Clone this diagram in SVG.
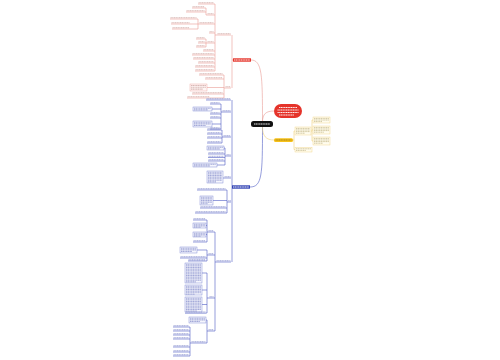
<svg xmlns="http://www.w3.org/2000/svg" width="500" height="360" viewBox="0 0 500 360">
<style>
.r{stroke:#e99c95;stroke-width:.6;fill:none}
.rt{stroke:#d9b9b6;stroke-width:1.1;stroke-dasharray:1.3 .4;fill:none}
.b{stroke:#4f5dc4;stroke-width:.6;fill:none}
.bt{stroke:#a3a9d8;stroke-width:1.1;stroke-dasharray:1.3 .4;fill:none}
.y{stroke:#eed17e;stroke-width:.6;fill:none}
.yt{stroke:#d3c9a3;stroke-width:1;stroke-dasharray:1.3 .4;fill:none}
.rbx{fill:#fff6f5;stroke:#e99c95;stroke-width:.4}
.bbx{fill:#f5f6fd;stroke:#6c78cc;stroke-width:.4}
.ybx{fill:#fffcee;stroke:#eed17e;stroke-width:.4}
.wt{stroke:#fff;stroke-width:.9;stroke-dasharray:1.3 .4;fill:none}
</style>
<rect width="500" height="360" fill="#fff"/>
<g id="connectors">
<path class="r" d="M262.5 121.5C262.5 75 262 60 251 60"/>
<path class="r" d="M232 35V88M232 60H233"/>
<path class="r" d="M217 35H215M215 4V71M214 4H215M214 15H215M214 24H215M214 33H215M214 43H215M214 51H215M214 55H215M214 59H215M214 63H215M214 67H215M214 71H215"/>
<path class="r" d="M207 15H206M206 8V15M205 8H206M205 12H206"/>
<path class="r" d="M199 24H198M198 19V29M197 19H198M190 24H198M190 29H198"/>
<path class="r" d="M207 43H206M206 39V47M205 39H206M205 43H206M205 47H206"/>
<path class="r" d="M225 88H224M224 75V98M223 75H224M223 79H224M207 87.5H224M223 94H224M210 98H224"/>
<path class="b" d="M262.5 127C262.5 175 262 187 250 187"/>
<path class="b" d="M232 100V262"/>
<path class="b" d="M222 112H221M221 104V129M220 104H221M212 109H221M220 114H221M220 118H221M212 124H221M220 129H221"/>
<path class="b" d="M223 137H222M222 130V143M221 130H222M221 134H222M221 138H222M221 143H222"/>
<path class="b" d="M226 156H225M225 148V165M224 148H225M224 154H225M224 157.5H225M224 161H225M217 165H225"/>
<path class="b" d="M224 178H223"/>
<path class="b" d="M228 202H227M227 190V213M226 190H227M213 200.5H227M226 208H227M226 213H227"/>
<path class="b" d="M216 262H215M215 232V331M214 232H215M214 255H215M214 298H215M214 331H215"/>
<path class="b" d="M208 232H207M207 220V242M206 220H207M206 225.5H207M206 234.5H207M206 242H207"/>
<path class="b" d="M208 255H207M207 250V261M197 250H207M206 258H207M206 261H207"/>
<path class="b" d="M209 298H207M207 273V313M202 273H207M202 290H207M202 304.5H207M206 313H207"/>
<path class="b" d="M208 331H207M207 320V343M206 320H207M206 343H207M191 343H190M190 327V356M189 327H190M189 331H190M189 335H190M189 339H190M189 347H190M189 352H190M189 356H190"/>
<path class="y" d="M262.5 127C262.5 136 266 140 274 140"/>
<path class="y" d="M293 140H294M294 131V149.5M294 131H295M294 149.5H295"/>
<path class="y" d="M311 131H312M312 120V141M312 120H313M312 130H313M312 141H313"/>
<path stroke="#e99c95" stroke-width=".6" fill="none" d="M262.5 122C262.5 114 266 111 274 111"/>
</g>
<g id="center"><rect x="251" y="121" width="22" height="6" rx="2.5" fill="#111"/><path class="wt" d="M254 124H270"/></g>
<g id="red-callout"><rect x="274" y="104" width="28" height="14" rx="7" fill="#e5332a"/><path class="wt" d="M279 107.5H297M277.5 110H298.5M277.5 112.5H298.5M279 115H294"/></g>
<g id="red-main"><rect x="233" y="58.3" width="18" height="3.4" fill="#e5342a"/><path class="wt" stroke-width=".7" d="M234 60H250"/></g>
<g id="blue-main"><rect x="232" y="185.3" width="18" height="3.4" fill="#3445b5"/><path class="wt" stroke-width=".7" d="M233 187H249"/></g>
<g id="yellow-main"><rect x="274" y="138.3" width="19" height="3.6" rx="1.5" fill="#f7c21b"/><path stroke="#8a6a10" stroke-width=".7" stroke-dasharray="1.3 .4" d="M275.5 140H291.5"/></g>
<g id="r-h1"><path class="rt" d="M217.5 33.7H230.5"/><path class="r" d="M217 35H231"/></g>
<g id="r-c1"><path class="rt" d="M198.5 2.7H213.5"/><path class="r" d="M198 4H214"/></g>
<g id="r-c2"><path class="rt" d="M207.5 13.7H213.5"/><path class="r" d="M207 15H214"/></g>
<g id="r-c2a"><path class="rt" d="M192.5 6.7H204.5"/><path class="r" d="M192 8H205"/></g>
<g id="r-c2b"><path class="rt" d="M186.5 10.7H204.5"/><path class="r" d="M186 12H205"/></g>
<g id="r-c3"><path class="rt" d="M199.5 22.7H213.5"/><path class="r" d="M199 24H214"/></g>
<g id="r-c3a"><path class="rt" d="M170.5 17.7H196.5"/><path class="r" d="M170 19H197"/></g>
<g id="r-c3b"><path class="rt" d="M171.5 22.7H189.5"/><path class="r" d="M171 24H190"/></g>
<g id="r-c3c"><path class="rt" d="M172.5 27.7H189.5"/><path class="r" d="M172 29H190"/></g>
<g id="r-c4"><path class="rt" d="M209.5 31.7H213.5"/><path class="r" d="M209 33H214"/></g>
<g id="r-c5"><path class="rt" d="M207.5 41.7H213.5"/><path class="r" d="M207 43H214"/></g>
<g id="r-c5a"><path class="rt" d="M196.5 37.7H204.5"/><path class="r" d="M196 39H205"/></g>
<g id="r-c5b"><path class="rt" d="M198.5 41.7H204.5"/><path class="r" d="M198 43H205"/></g>
<g id="r-c5c"><path class="rt" d="M196.5 45.7H204.5"/><path class="r" d="M196 47H205"/></g>
<g id="r-c6"><path class="rt" d="M203.5 49.7H213.5"/><path class="r" d="M203 51H214"/></g>
<g id="r-c7"><path class="rt" d="M192.5 53.7H213.5"/><path class="r" d="M192 55H214"/></g>
<g id="r-c8"><path class="rt" d="M193.5 57.7H213.5"/><path class="r" d="M193 59H214"/></g>
<g id="r-c9"><path class="rt" d="M198.5 61.7H213.5"/><path class="r" d="M198 63H214"/></g>
<g id="r-c10"><path class="rt" d="M195.5 65.7H213.5"/><path class="r" d="M195 67H214"/></g>
<g id="r-c11"><path class="rt" d="M195.5 69.7H213.5"/><path class="r" d="M195 71H214"/></g>
<g id="r-h2"><path class="rt" d="M225.5 86.7H230.5"/><path class="r" d="M225 88H231"/></g>
<g id="r-h2a"><path class="rt" d="M199.5 73.7H222.5"/><path class="r" d="M199 75H223"/></g>
<g id="r-h2b"><path class="rt" d="M205.5 77.7H222.5"/><path class="r" d="M205 79H223"/></g>
<g id="r-h2c"><rect class="rbx" x="190" y="84" width="17" height="7"/><path class="rt" stroke-width=".9" d="M191 85.5H206M191 87.3H206M191 89.1H203"/></g>
<g id="r-h2d"><path class="rt" d="M192.5 92.7H222.5"/><path class="r" d="M192 94H223"/></g>
<g id="r-h2e"><path class="rt" d="M187.5 96.7H209.5"/><path class="r" d="M187 98H210"/></g>
<g id="b-0"><path class="bt" d="M206.5 98.7H230.5"/><path class="b" d="M206 100H231"/></g>
<g id="b-1"><path class="bt" d="M222.5 110.7H230.5"/><path class="b" d="M222 112H231"/></g>
<g id="b-1a"><path class="bt" d="M210.5 102.7H219.5"/><path class="b" d="M210 104H220"/></g>
<g id="b-1b"><rect class="bbx" x="193" y="107" width="19" height="4"/><path class="bt" stroke-width=".8" d="M194 108.3H211M194 109.9H208"/></g>
<g id="b-1c"><path class="bt" d="M210.5 112.7H219.5"/><path class="b" d="M210 114H220"/></g>
<g id="b-1d"><path class="bt" d="M210.5 116.7H219.5"/><path class="b" d="M210 118H220"/></g>
<g id="b-1e"><rect class="bbx" x="193" y="121" width="19" height="6"/><path class="bt" stroke-width=".8" d="M194 122.3H211M194 123.9H211M194 125.5H206"/></g>
<g id="b-1f"><path class="bt" d="M210.5 127.7H219.5"/><path class="b" d="M210 129H220"/></g>
<g id="b-2"><path class="bt" d="M223.5 135.7H230.5"/><path class="b" d="M223 137H231"/></g>
<g id="b-2a"><path class="bt" d="M207.5 128.7H220.5"/><path class="b" d="M207 130H221"/></g>
<g id="b-2b"><path class="bt" d="M207.5 132.7H220.5"/><path class="b" d="M207 134H221"/></g>
<g id="b-2c"><path class="bt" d="M207.5 136.7H220.5"/><path class="b" d="M207 138H221"/></g>
<g id="b-2d"><path class="bt" d="M207.5 141.7H220.5"/><path class="b" d="M207 143H221"/></g>
<g id="b-3"><path class="bt" d="M226.5 154.7H230.5"/><path class="b" d="M226 156H231"/></g>
<g id="b-3a"><rect class="bbx" x="207" y="146" width="17" height="4"/><path class="bt" stroke-width=".8" d="M208 147.3H223M208 148.9H220"/></g>
<g id="b-3b"><path class="bt" d="M208.5 152.7H223.5"/><path class="b" d="M208 154H224"/></g>
<g id="b-3c"><path class="bt" d="M208.5 156.2H223.5"/><path class="b" d="M208 157.5H224"/></g>
<g id="b-3d"><path class="bt" d="M208.5 159.7H223.5"/><path class="b" d="M208 161H224"/></g>
<g id="b-3e"><rect class="bbx" x="193" y="163" width="24" height="4"/><path class="bt" stroke-width=".8" d="M194 164.3H216M194 165.9H210"/></g>
<g id="b-4"><path class="bt" d="M224.5 176.7H230.5"/><path class="b" d="M224 178H231"/></g>
<g id="b-4a"><rect class="bbx" x="207" y="171" width="16" height="12"/><path class="bt" stroke-width=".8" d="M208 172.3H222M208 173.9H222M208 175.5H222M208 177.1H222M208 178.7H222M208 180.3H222M208 181.9H216"/></g>
<g id="b-5"><path class="bt" d="M228.2 200.7H230.8"/><path class="b" d="M228 202H231"/></g>
<g id="b-5a"><path class="bt" d="M197.5 188.7H225.5"/><path class="b" d="M197 190H226"/></g>
<g id="b-5b"><rect class="bbx" x="200" y="196" width="13" height="9"/><path class="bt" stroke-width=".8" d="M201 197.3H212M201 198.9H212M201 200.5H212M201 202.1H212M201 203.7H208"/></g>
<g id="b-5c"><path class="bt" d="M200.5 206.7H225.5"/><path class="b" d="M200 208H226"/></g>
<g id="b-5d"><path class="bt" d="M195.5 211.7H225.5"/><path class="b" d="M195 213H226"/></g>
<g id="b-6"><path class="bt" d="M216.5 260.7H230.5"/><path class="b" d="M216 262H231"/></g>
<g id="b-g1"><path class="bt" d="M208.5 230.7H213.5"/><path class="b" d="M208 232H214"/></g>
<g id="b-g1a"><path class="bt" d="M193.5 218.7H205.5"/><path class="b" d="M193 220H206"/></g>
<g id="b-g1b"><rect class="bbx" x="193" y="223" width="13" height="5"/><path class="bt" stroke-width=".8" d="M194 224.3H205M194 225.9H205M194 227.3H201"/></g>
<g id="b-g1c"><rect class="bbx" x="193" y="232" width="13" height="5"/><path class="bt" stroke-width=".8" d="M194 233.3H205M194 234.9H205M194 236.3H201"/></g>
<g id="b-g1d"><path class="bt" d="M193.5 240.7H205.5"/><path class="b" d="M193 242H206"/></g>
<g id="b-g2"><path class="bt" d="M208.5 253.7H213.5"/><path class="b" d="M208 255H214"/></g>
<g id="b-g2a"><rect class="bbx" x="180" y="247" width="17" height="6"/><path class="bt" stroke-width=".8" d="M181 248.3H196M181 249.9H196M181 251.5H192"/></g>
<g id="b-g2b"><path class="bt" d="M180.5 256.7H205.5"/><path class="b" d="M180 258H206"/></g>
<g id="b-g2c"><path class="bt" d="M188.5 259.9H205.5"/><path class="b" d="M188 261H206"/></g>
<g id="b-g3"><path class="bt" d="M209.5 296.7H213.5"/><path class="b" d="M209 298H214"/></g>
<g id="b-g3a"><rect class="bbx" x="185" y="263" width="17" height="20"/><path class="bt" stroke-width=".8" d="M186 264.3H201M186 265.9H201M186 267.5H201M186 269.1H201M186 270.7H201M186 272.3H201M186 273.9H201M186 275.5H201M186 277.1H201M186 278.7H201M186 280.3H201M186 281.9H196"/></g>
<g id="b-g3b"><rect class="bbx" x="185" y="285" width="17" height="10"/><path class="bt" stroke-width=".8" d="M186 286.3H201M186 287.9H201M186 289.5H201M186 291.1H201M186 292.7H201M186 294.2H195"/></g>
<g id="b-g3c"><rect class="bbx" x="185" y="297" width="17" height="15"/><path class="bt" stroke-width=".8" d="M186 298.3H201M186 299.9H201M186 301.5H201M186 303.1H201M186 304.7H201M186 306.3H201M186 307.9H201M186 309.5H201M186 311.1H197"/></g>
<g id="b-g3d"><path class="bt" d="M185.5 312H205.5"/><path class="b" d="M185 313.2H206"/></g>
<g id="b-g4"><path class="bt" d="M208.5 329.7H213.5"/><path class="b" d="M208 331H214"/></g>
<g id="b-g4a"><rect class="bbx" x="189" y="317" width="17" height="6"/><path class="bt" stroke-width=".8" d="M190 318.3H205M190 319.9H205M190 321.5H200"/></g>
<g id="b-g4b"><path class="bt" d="M191.5 341.7H205.5"/><path class="b" d="M191 343H206"/></g>
<g id="b-g4c"><path class="bt" d="M173.5 325.7H188.5"/><path class="b" d="M173 327H189"/></g>
<g id="b-g4d"><path class="bt" d="M173.5 329.7H188.5"/><path class="b" d="M173 331H189"/></g>
<g id="b-g4e"><path class="bt" d="M173.5 333.7H188.5"/><path class="b" d="M173 335H189"/></g>
<g id="b-g4f"><path class="bt" d="M173.5 337.7H188.5"/><path class="b" d="M173 339H189"/></g>
<g id="b-g4g"><path class="bt" d="M173.5 345.7H188.5"/><path class="b" d="M173 347H189"/></g>
<g id="b-g4h"><path class="bt" d="M173.5 350.7H188.5"/><path class="b" d="M173 352H189"/></g>
<g id="b-g4i"><path class="bt" d="M173.5 354.7H188.5"/><path class="b" d="M173 356H189"/></g>
<g id="y-1"><rect class="ybx" x="295" y="127" width="16" height="8"/><path class="yt" stroke-width=".8" d="M296 128.4H310M296 130H310M296 131.6H310M296 133.2H305"/></g>
<g id="y-2"><rect class="ybx" x="295" y="147.5" width="17" height="4.5"/><path class="yt" stroke-width=".8" d="M296 148.8H311M296 150.4H306"/></g>
<g id="y-1a"><rect class="ybx" x="313" y="117" width="17" height="6"/><path class="yt" stroke-width=".8" d="M314 118.4H329M314 120H329M314 121.6H322"/></g>
<g id="y-1b"><rect class="ybx" x="313" y="126" width="17" height="8"/><path class="yt" stroke-width=".8" d="M314 127.4H329M314 129H329M314 130.6H329M314 132.2H324"/></g>
<g id="y-1c"><rect class="ybx" x="313" y="137" width="17" height="8"/><path class="yt" stroke-width=".8" d="M314 138.4H329M314 140H329M314 141.6H329M314 143.2H323"/></g>
</svg>
